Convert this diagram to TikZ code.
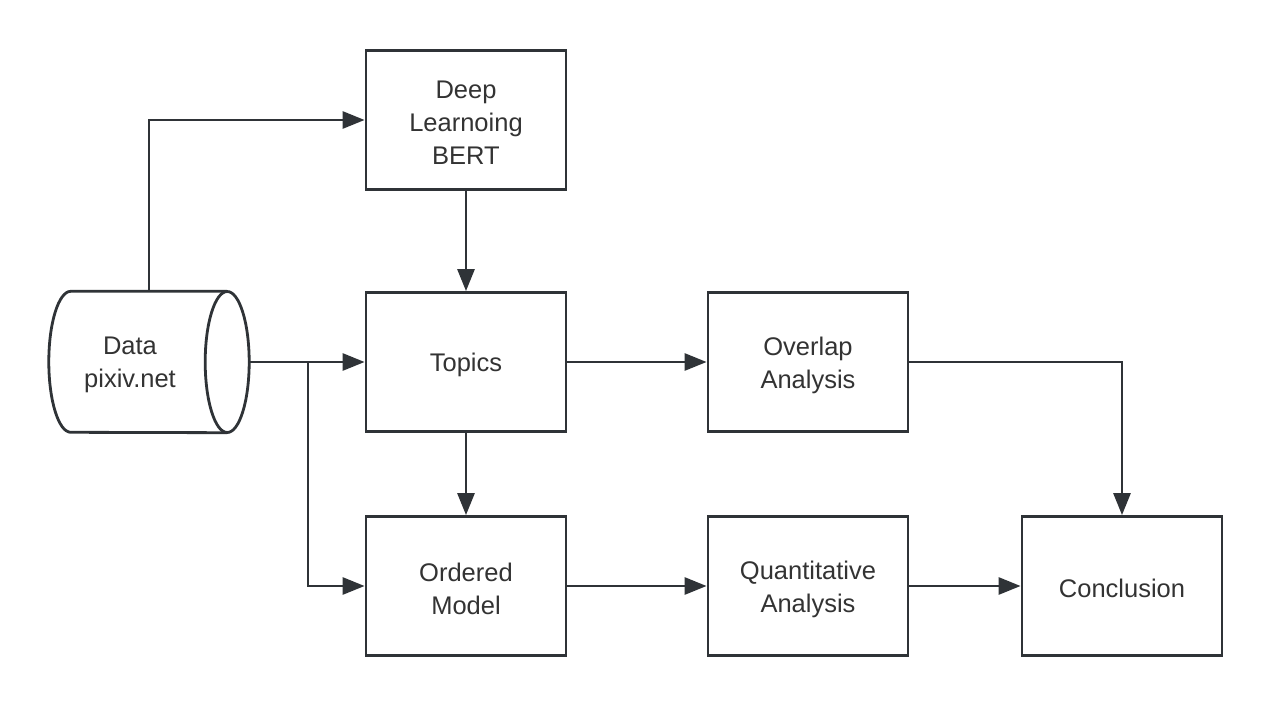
\documentclass[tikz,border=0pt]{standalone}
\usepackage{fontspec}
\setmainfont{Liberation Sans}
\usetikzlibrary{arrows.meta}
\definecolor{lc}{HTML}{2F3337}
\definecolor{tc}{HTML}{333333}
\begin{document}
\begin{tikzpicture}[x=1pt,y=-1pt,
  box/.style={draw=lc, line width=2.8pt, minimum width=200pt, minimum height=139pt, inner sep=0pt},
  txt/.style={align=center, text=tc, inner sep=0pt, font=\fontsize{25.5}{33}\selectfont},
  conn/.style={draw=lc, line width=2.8pt, -{Triangle[length=22pt,width=17pt]}},
  plain/.style={draw=lc, line width=2.8pt}]
\useasboundingbox (0,0) rectangle (1272,706);
\fill[white] (0,0) rectangle (1272,706);
% boxes
\node[box] (deep) at (466,120) {};
\node[box] (topics) at (466,362) {};
\node[box] (overlap) at (808,362) {};
\node[box] (ordered) at (466,586) {};
\node[box] (quant) at (808,586) {};
\node[box] (concl) at (1122,586) {};
% labels
\node[txt] (deep-t) at ([yshift=-3pt]deep.center) {Deep\\Learnoing\\BERT};
\node[txt] (topics-t) at ([yshift=-3pt]topics.center) {Topics};
\node[txt] (overlap-t) at ([yshift=-3pt]overlap.center) {Overlap\\Analysis};
\node[txt] (ordered-t) at ([yshift=-3pt]ordered.center) {Ordered\\Model};
\node[txt] (quant-t) at ([yshift=-3pt]quant.center) {Quantitative\\Analysis};
\node[txt] (concl-t) at ([yshift=-2pt]concl.center) {Conclusion};
% data cylinder
\node[minimum width=200pt, minimum height=141pt, inner sep=0pt] (data) at (149,362) {};
\fill[white] ([xshift=22pt]data.north west) arc[start angle=90, end angle=270, x radius=22pt, y radius=70.5pt]
  -- ([xshift=-22pt]data.south east) -- ([xshift=-22pt]data.north east) -- cycle;
\draw[plain] ([xshift=-22pt]data.north east) -- ([xshift=22pt]data.north west)
  arc[start angle=90, end angle=270, x radius=22pt, y radius=70.5pt]
  -- ([xshift=-22pt]data.south east);
\draw[plain] ([xshift=-22pt]data.east) ellipse[x radius=22pt, y radius=70.5pt];
\node[txt] (data-t) at (130,365) {Data\\pixiv.net};
% connectors
\coordinate (c1) at (data.north |- deep.west);
\draw[conn] (data.north) -- (c1) -- (deep.west);
\draw[conn] (data.east) -- (topics.west);
\coordinate (b1) at (308,362);
\draw[conn] (b1) |- (ordered.west);
\draw[conn] (deep.south) -- (topics.north);
\draw[conn] (topics.south) -- (ordered.north);
\draw[conn] (topics.east) -- (overlap.west);
\draw[conn] (ordered.east) -- (quant.west);
\draw[conn] (quant.east) -- (concl.west);
\draw[conn] (overlap.east) -| (concl.north);
\end{tikzpicture}
\end{document}
